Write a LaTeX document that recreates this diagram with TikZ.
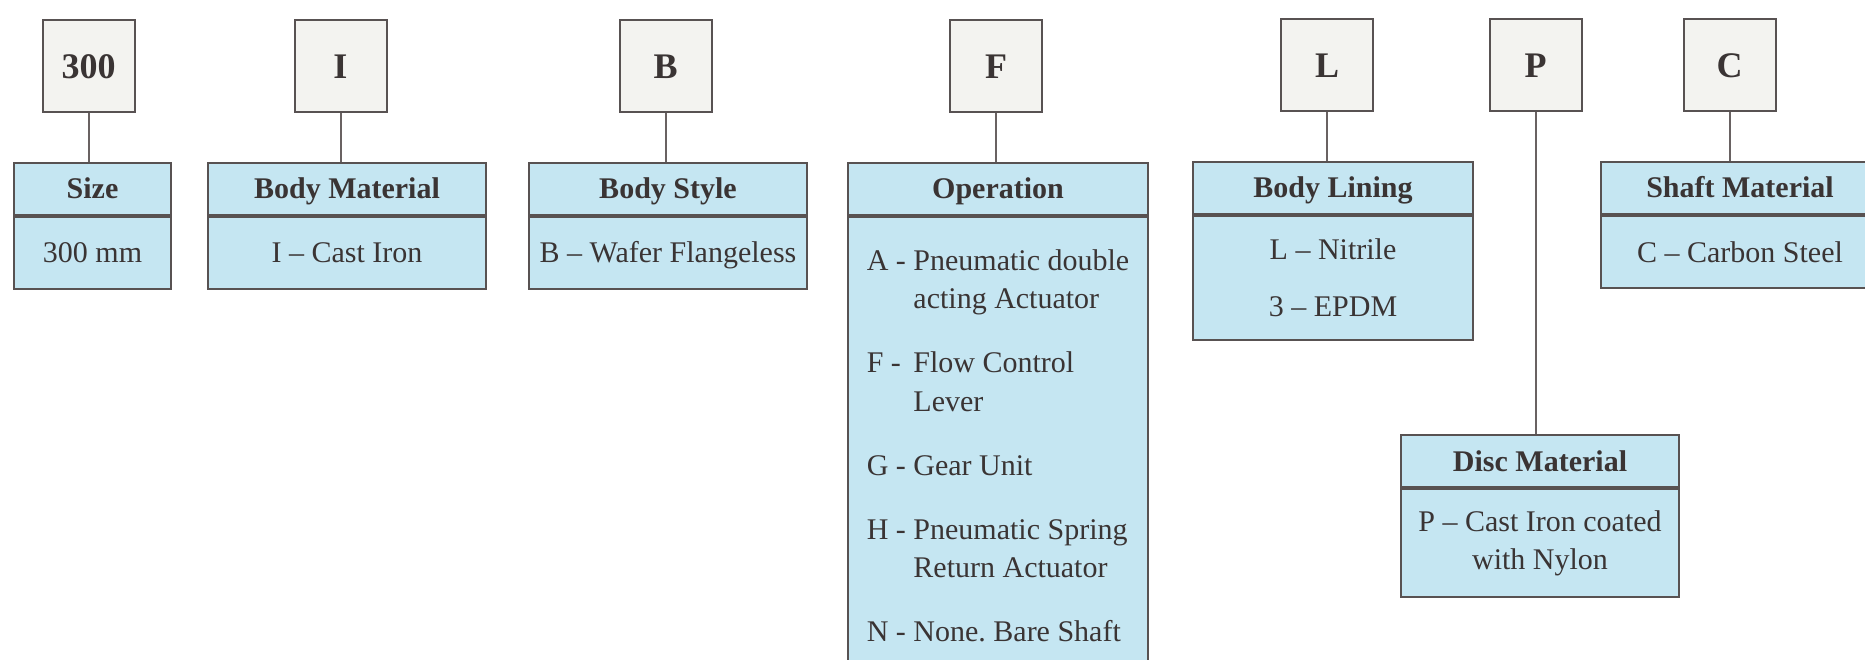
\documentclass[tikz,border=0pt]{standalone}
\usepackage{fontspec}
\setmainfont{Liberation Serif}
\usepackage{tikz}
\usetikzlibrary{positioning}
\frenchspacing

\definecolor{edgecol}{RGB}{88,82,82}
\definecolor{linkcol}{RGB}{105,98,98}
\definecolor{inkcol}{RGB}{58,52,52}
\definecolor{codefill}{RGB}{243,243,240}
\definecolor{bluefill}{RGB}{197,230,242}

\begin{document}
\begin{tikzpicture}[x=1pt, y=-1pt,
  codebox/.style={draw=edgecol, fill=codefill, line width=2pt, minimum width=92pt, minimum height=92pt, inner sep=0pt, text=inkcol, font=\fontsize{36}{40}\selectfont\bfseries, text height=25pt, text depth=0pt},
  headbox/.style={draw=edgecol, fill=bluefill, line width=2pt, minimum height=52pt, inner sep=0pt, text=inkcol, font=\fontsize{30}{38}\selectfont\bfseries, text height=20pt, text depth=0pt},
  bodybox/.style={draw=edgecol, fill=bluefill, line width=2pt, inner sep=0pt, text=inkcol, font=\fontsize{30}{38}\selectfont, align=center},
  oneline/.style={minimum height=72pt, text height=20pt, text depth=0pt},
  link/.style={linkcol, line width=2pt}]

\useasboundingbox (0,0) rectangle (1865,660);
\clip (0,0) rectangle (1865,660);
\fill[white] (0,0) rectangle (1865,660);

\node[codebox] (sizeC)   at (88.5,66)   {300};
\node[codebox] (matC)    at (340.5,66)  {I};
\node[codebox] (styleC)  at (665.5,66)  {B};
\node[codebox] (opC)     at (996,66)    {F};
\node[codebox] (liningC) at (1327,65)   {L};
\node[codebox] (discC)   at (1535.5,65) {P};
\node[codebox] (shaftC)  at (1729.5,65) {C};

\node[headbox, minimum width=157pt] (sizeH)   at (92.5,189) {Size};
\node[headbox, minimum width=278pt] (matH)    at (347,189)  {Body Material};
\node[headbox, minimum width=278pt] (styleH)  at (668,189)  {Body Style};
\node[headbox, minimum width=300pt] (opH)     at (998,189)  {Operation};
\node[headbox, minimum width=280pt] (liningH) at (1333,188) {Body Lining};
\node[headbox, minimum width=278pt] (shaftH)  at (1740,188) {Shaft Material};
\node[headbox, minimum width=278pt] (discH)   at (1540,461) {Disc Material};

\node[bodybox, oneline, minimum width=157pt] (sizeB)  [below=0pt of sizeH]  {300 mm};
\node[bodybox, oneline, minimum width=278pt] (matB)   [below=0pt of matH]   {I -- Cast Iron};
\node[bodybox, oneline, minimum width=278pt] (styleB) [below=0pt of styleH] {B -- Wafer Flangeless};
\node[bodybox, minimum width=300pt, inner ysep=27.4pt] (opB) [below=0pt of opH]
  {\begin{tabular}[t]{@{}l@{\ }l@{}}
   A -& Pneumatic double\\
      & acting Actuator\\[26pt]
   F -& Flow Control\\
      & Lever\\[26pt]
   G -& Gear Unit\\[26pt]
   H -& Pneumatic Spring\\
      & Return Actuator\\[26pt]
   N -& None. Bare Shaft
   \end{tabular}};
\node[bodybox, minimum width=280pt, minimum height=124pt] (liningB) [below=0pt of liningH] {L -- Nitrile\\[19pt]3 -- EPDM};
\node[bodybox, oneline, minimum width=278pt] (shaftB) [below=0pt of shaftH] {C -- Carbon Steel};
\node[bodybox, minimum width=278pt, minimum height=108pt] (discB) [below=0pt of discH] {P -- Cast Iron coated\\with Nylon};

\path[link]
      (sizeC)   edge (sizeC |- sizeH.north)
      (matC)    edge (matC |- matH.north)
      (styleC)  edge (styleC |- styleH.north)
      (opC)     edge (opC |- opH.north)
      (liningC) edge (liningC |- liningH.north)
      (discC)   edge (discC |- discH.north)
      (shaftC)  edge (shaftC |- shaftH.north);
\end{tikzpicture}
\end{document}
